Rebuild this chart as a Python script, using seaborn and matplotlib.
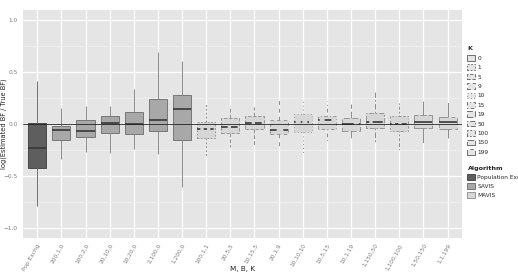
import matplotlib
matplotlib.use("Agg")
import matplotlib.pyplot as plt
import numpy as np
import pandas as pd
import seaborn as sns
from matplotlib.patches import Patch

# Categories (M, B, K) and the algorithm / K used for each box
labels = [
    "Pop Exchg", "200,1,0", "100,2,0", "20,10,0", "10,20,0", "2,100,0", "1,200,0",
    "100,1,1", "20,5,5", "10,15,5", "20,1,9", "10,10,10", "10,5,15", "10,1,19",
    "1,150,50", "1,100,100", "1,50,150", "1,1,199",
]
k_values = [0, 0, 0, 0, 0, 0, 0, 1, 5, 5, 9, 10, 15, 19, 50, 100, 150, 199]
algorithms = ["Population Exchange"] + ["SAVIS"] * 6 + ["MAVIS"] * 11

# Box statistics
whisker_low = [-0.79, -0.337, -0.276, -0.282, -0.24, -0.288, -0.606,
               -0.306, -0.219, -0.203, -0.242, -0.283, -0.187, -0.155,
               -0.18, -0.251, -0.187, -0.138]
q1 = [-0.43, -0.154, -0.125, -0.087, -0.096, -0.07, -0.154,
      -0.139, -0.09, -0.052, -0.097, -0.074, -0.045, -0.071,
      -0.035, -0.068, -0.042, -0.052]
median = [-0.237, -0.061, -0.067, 0.006, 0.0, 0.035, 0.144,
          -0.052, -0.029, 0.006, -0.058, 0.016, 0.035, 0.0,
          0.023, 0.0, 0.016, 0.019]
q3 = [0.01, -0.016, 0.042, 0.077, 0.115, 0.244, 0.279,
      0.023, 0.052, 0.077, 0.039, 0.097, 0.077, 0.058,
      0.103, 0.074, 0.087, 0.064]
whisker_high = [0.41, 0.154, 0.173, 0.17, 0.333, 0.69, 0.61,
                0.19, 0.174, 0.167, 0.232, 0.225, 0.225, 0.19,
                0.303, 0.2, 0.225, 0.225]

k_levels = [0, 1, 5, 9, 10, 15, 19, 50, 100, 150, 199]
alg_levels = ["Population Exchange", "SAVIS", "MAVIS"]

# ggplot-like linetype palette
LINESTYLES = {
    0: "solid",
    1: (0, (2, 2)),
    5: (0, (4, 2)),
    9: (0, (4, 4)),
    10: (0, (1, 3)),
    15: (0, (1, 3, 4, 3)),
    19: (0, (7, 3)),
    50: (0, (2, 2, 6, 2)),
    100: (0, (1, 2, 2, 2, 3, 2, 4, 2)),
    150: (0, (15, 2, 8, 2)),
    199: (0, (15, 4, 4, 4, 8, 4, 4, 4)),
}
FILLS = {"Population Exchange": "#5e5e5e", "SAVIS": "#a8a8a8", "MAVIS": "#d6d6d6"}
EDGES = {"Population Exchange": "#3c3c3c", "SAVIS": "#6a6a6a", "MAVIS": "#8a8a8a"}
WHISKERS = {"Population Exchange": "#6e6e6e", "SAVIS": "#8a8a8a", "MAVIS": "#8a8a8a"}

# five points per box give exact quartiles with linear percentiles
rows = []
for i, lab in enumerate(labels):
    for v in (whisker_low[i], q1[i], median[i], q3[i], whisker_high[i]):
        rows.append({"label": lab, "value": v, "K": k_values[i], "alg": algorithms[i]})
df = pd.DataFrame(rows)

sns.set_style("darkgrid", {"axes.facecolor": "#e5e5e5", "grid.color": "white"})
plt.rcParams["font.family"] = ["DejaVu Sans"]

fig = plt.figure(figsize=(5.18, 2.75), dpi=100)
ax = fig.add_axes([0.044, 0.135, 0.848, 0.829])

for (k, alg), sub in df.groupby(["K", "alg"]):
    ls = LINESTYLES[k]
    sns.boxplot(
        data=sub, x="label", y="value", order=labels,
        color=FILLS[alg], saturation=1, width=0.75, whis=np.inf,
        showcaps=False, linewidth=0.6, ax=ax,
        boxprops={"linestyle": ls, "edgecolor": EDGES[alg]},
        whiskerprops={"linestyle": ls, "color": WHISKERS[alg], "linewidth": 0.7},
        medianprops={"linestyle": ls, "color": "#383838", "linewidth": 1.2},
    )

ax.axhline(0, color="#222222", linewidth=0.6, zorder=5)

ax.set_xlim(-0.6, 17.6)
ax.set_ylim(-1.1, 1.1)
ax.set_yticks([-1.0, -0.5, 0.0, 0.5, 1.0])
ax.set_yticks([-0.75, -0.25, 0.25, 0.75], minor=True)
ax.grid(True, which="major", color="white", linewidth=0.9)
ax.grid(True, which="minor", color="#f2f2f2", linewidth=0.5)
ax.set_axisbelow(True)
for s in ax.spines.values():
    s.set_visible(False)
ax.tick_params(axis="both", which="major", length=2, width=0.5, color="#7f7f7f",
               labelsize=4.2, labelcolor="#7f7f7f", pad=1.5)
ax.tick_params(axis="both", which="minor", length=0)
ax.set_xticks(range(len(labels)))
ax.set_xticklabels(labels, rotation=60, ha="right", rotation_mode="anchor")
ax.set_xlabel("M, B, K", fontsize=5.2, color="#222222")
ax.set_ylabel("log(Estimated BF / True BF)", fontsize=4.8, color="#222222")
ax.xaxis.set_label_coords(0.5, -0.125)
ax.yaxis.set_label_coords(-0.035, 0.5)

k_handles = [Patch(facecolor="#e5e5e5", edgecolor="#5a5a5a", linewidth=0.6,
                   linestyle=LINESTYLES[k], label=str(k)) for k in k_levels]
leg1 = fig.legend(handles=k_handles, title="K", loc="upper left",
                  bbox_to_anchor=(0.898, 0.84), fontsize=4.2, title_fontsize=4.6,
                  frameon=False, handlelength=1.3, handleheight=1.1,
                  labelspacing=0.62, handletextpad=0.4, alignment="left",
                  borderaxespad=0)
leg1.get_title().set_fontweight("bold")

alg_handles = [Patch(facecolor=FILLS[a], edgecolor=EDGES[a], linewidth=0.6, label=a)
               for a in alg_levels]
leg2 = fig.legend(handles=alg_handles, title="Algorithm", loc="upper left",
                  bbox_to_anchor=(0.898, 0.405), fontsize=4.2, title_fontsize=4.6,
                  frameon=False, handlelength=1.3, handleheight=1.1,
                  labelspacing=0.55, handletextpad=0.4, alignment="left",
                  borderaxespad=0)
leg2.get_title().set_fontweight("bold")

fig.savefig("out.png", dpi=100)
